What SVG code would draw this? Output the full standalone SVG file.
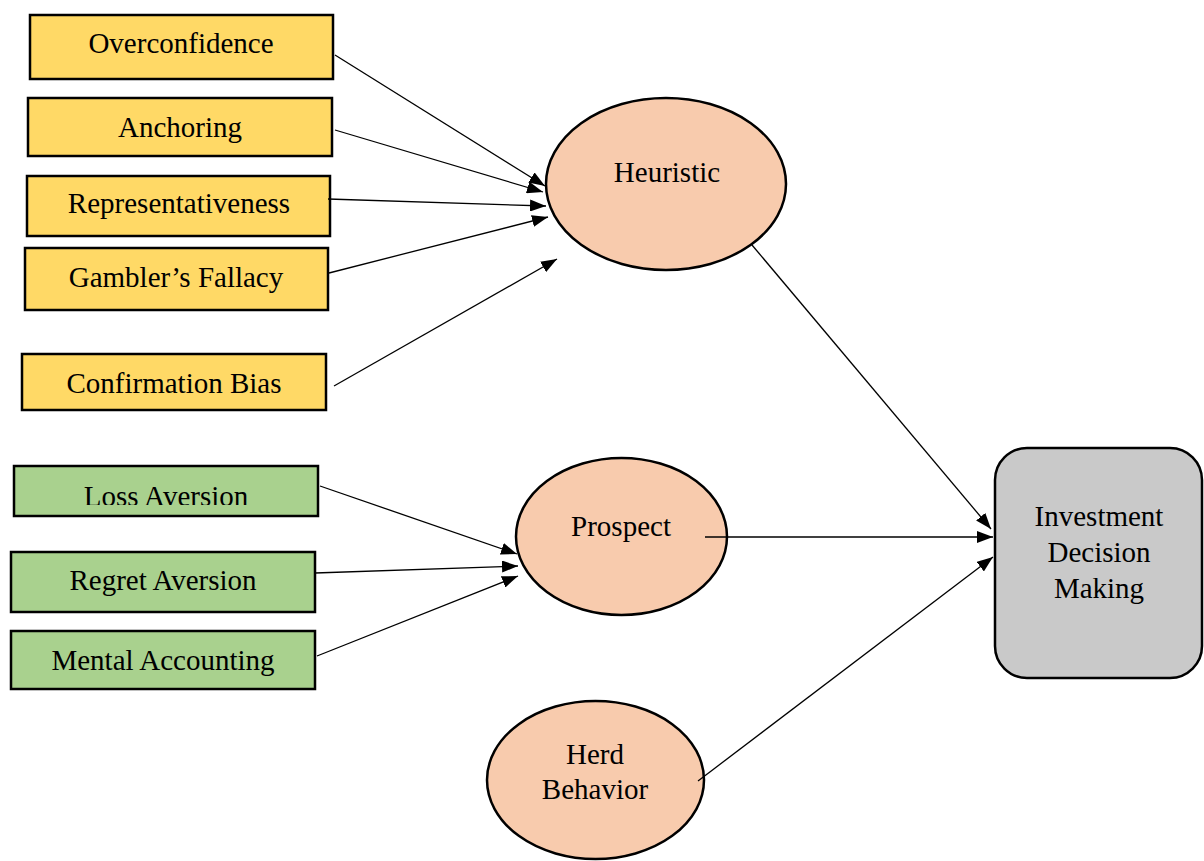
<svg xmlns="http://www.w3.org/2000/svg" width="1204" height="861" viewBox="0 0 1204 861">
<style>
  .t { font-family: "Liberation Serif", "Times New Roman", serif; font-size: 29px; fill: #000; text-anchor: middle; }
  .y { fill: #FFD966; stroke: #000; stroke-width: 2.5; }
  .g { fill: #A9D18E; stroke: #000; stroke-width: 2.5; }
  .e { fill: #F8CBAD; stroke: #000; stroke-width: 2.5; }
  .d { fill: #C9C9C9; stroke: #000; stroke-width: 2.5; }
  .c { stroke: #000; stroke-width: 1.3; fill: none; marker-end: url(#ah); }
</style>
<defs>
  <marker id="ah" viewBox="0 0 16 12" refX="16" refY="6" markerWidth="16" markerHeight="12" markerUnits="userSpaceOnUse" orient="auto">
    <path d="M0,0 L16,6 L0,12 z" fill="#000"/>
  </marker>
  <clipPath id="lossclip"><rect x="0" y="460" width="400" height="45"/></clipPath>
</defs>
<rect width="1204" height="861" fill="#fff"/>

<g id="overconfidence"><rect class="y" x="30" y="15" width="303" height="64"/><text class="t" x="181" y="53">Overconfidence</text></g>
<g id="anchoring"><rect class="y" x="28" y="98" width="304" height="58"/><text class="t" x="180" y="137">Anchoring</text></g>
<g id="representativeness"><rect class="y" x="27" y="176" width="303" height="60"/><text class="t" x="179" y="213">Representativeness</text></g>
<g id="gamblers"><rect class="y" x="25" y="248" width="303" height="62"/><text class="t" x="176" y="287">Gambler’s Fallacy</text></g>
<g id="confirmation"><rect class="y" x="22" y="354" width="304" height="56"/><text class="t" x="174" y="393">Confirmation Bias</text></g>

<g id="loss"><rect class="g" x="14" y="466" width="304" height="50"/><text class="t" x="166" y="506" clip-path="url(#lossclip)">Loss Aversion</text></g>
<g id="regret"><rect class="g" x="11" y="552" width="304" height="60"/><text class="t" x="163" y="590">Regret Aversion</text></g>
<g id="mental"><rect class="g" x="11" y="631" width="304" height="58"/><text class="t" x="163" y="670">Mental Accounting</text></g>

<g id="heuristic"><ellipse class="e" cx="666" cy="184" rx="120" ry="86"/><text class="t" x="667" y="182">Heuristic</text></g>
<g id="prospect"><ellipse class="e" cx="621.5" cy="536.5" rx="105.5" ry="78.5"/><text class="t" x="621" y="536">Prospect</text></g>
<g id="herd"><ellipse class="e" cx="595.5" cy="780" rx="108.5" ry="79"/><text class="t" x="595" y="764">Herd</text><text class="t" x="595" y="799">Behavior</text></g>

<g id="investment"><rect class="d" x="995" y="448" width="207" height="230" rx="32" ry="32"/><text class="t" x="1099" y="526">Investment</text><text class="t" x="1099" y="562">Decision</text><text class="t" x="1099" y="598">Making</text></g>

<g id="connectors">
  <line class="c" x1="335" y1="55" x2="545" y2="186"/>
  <line class="c" x1="335" y1="130" x2="543" y2="192"/>
  <line class="c" x1="328" y1="199" x2="546" y2="206"/>
  <line class="c" x1="329" y1="273" x2="548" y2="217"/>
  <line class="c" x1="334" y1="386" x2="557" y2="259"/>
  <line class="c" x1="320" y1="486" x2="517" y2="554"/>
  <line class="c" x1="315" y1="573" x2="518" y2="566"/>
  <line class="c" x1="317" y1="656" x2="518" y2="576"/>
  <line class="c" x1="752" y1="245" x2="991" y2="529"/>
  <line class="c" x1="705" y1="537" x2="993" y2="537"/>
  <line class="c" x1="698" y1="781" x2="993" y2="557"/>
</g>
</svg>
